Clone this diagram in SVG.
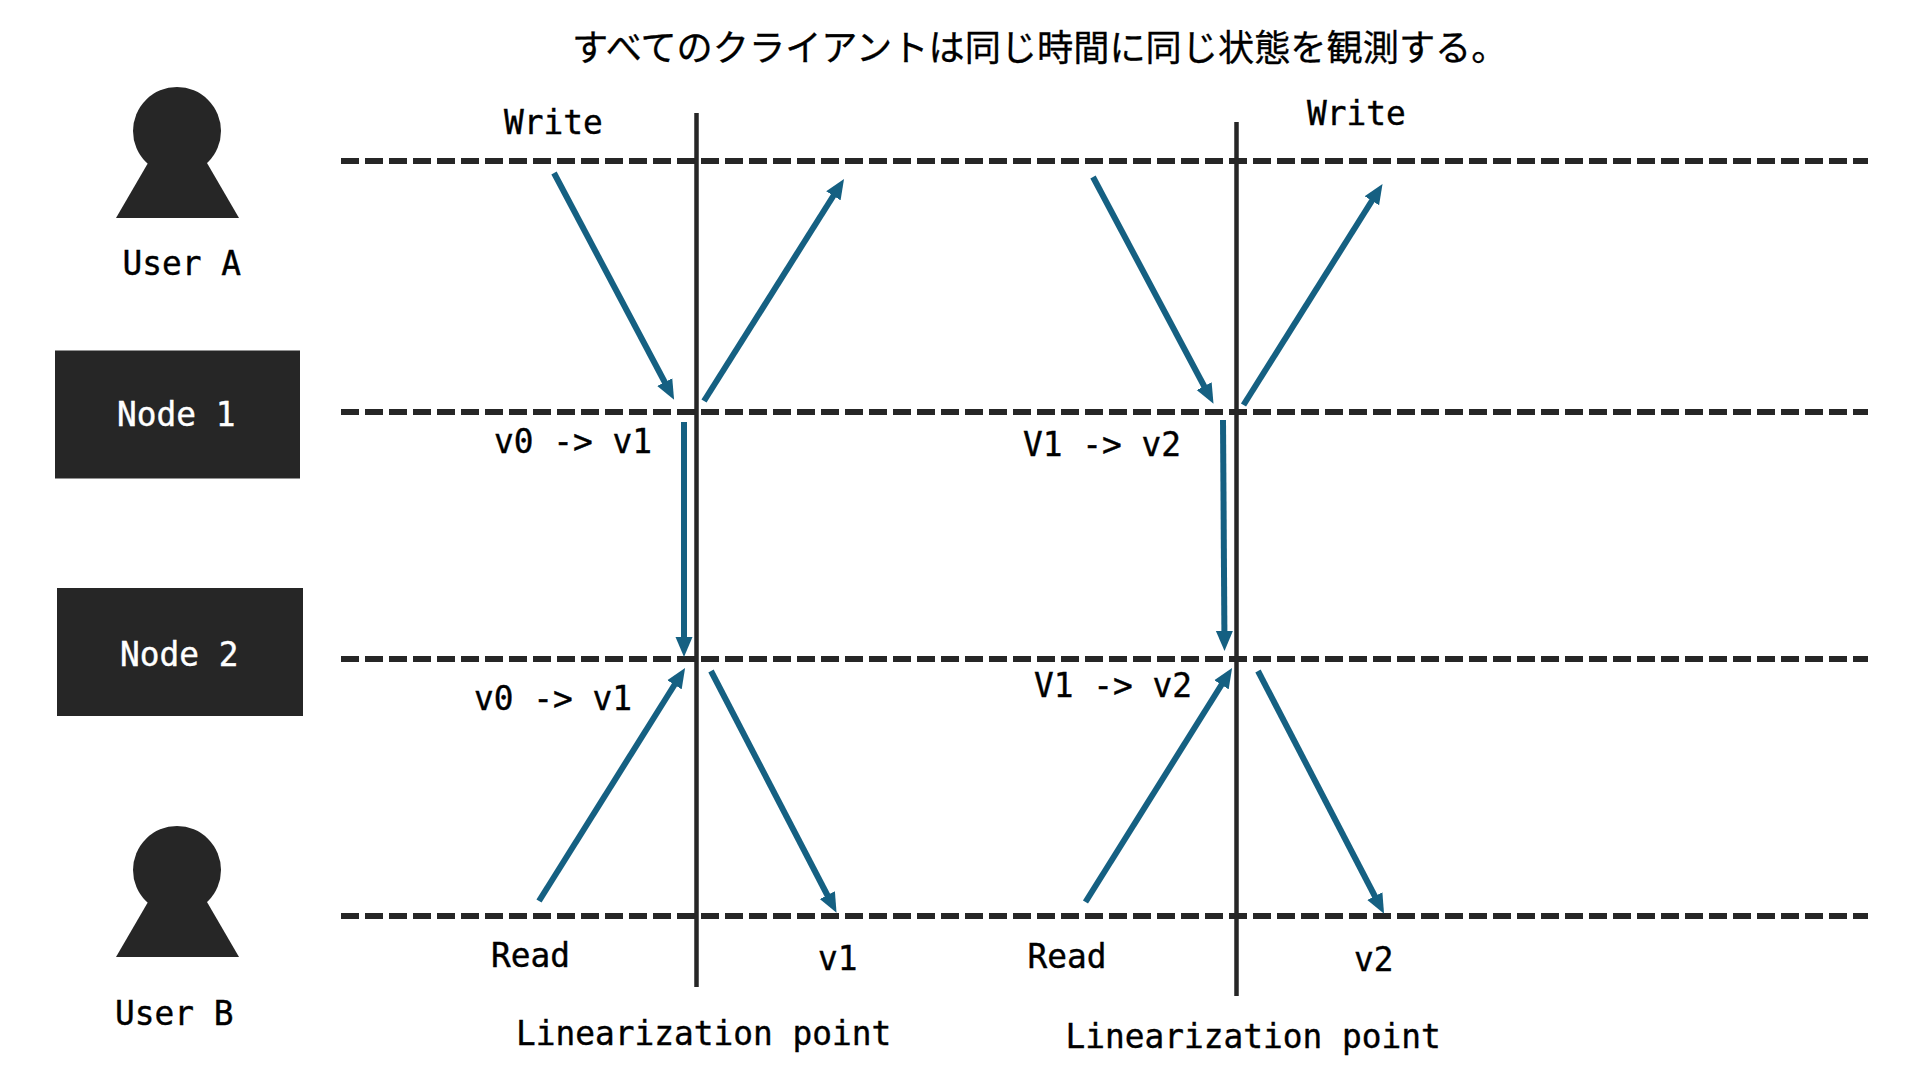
<svg xmlns="http://www.w3.org/2000/svg" width="1920" height="1080" viewBox="0 0 1920 1080">
<style>
.t{font-family:"DejaVu Sans Mono","Liberation Mono",monospace;font-size:32.8px;fill:#000;stroke:#000;stroke-width:.4}
.w{fill:#fff;stroke:#fff}
.title{font-family:"Noto Sans CJK JP","Noto Sans",sans-serif;font-size:36.2px;fill:#000;stroke:#000;stroke-width:.3}
.fill{fill:#262626}
.d{stroke:#262626;stroke-width:6;stroke-dasharray:18 6;fill:none}
.v{stroke:#262626;stroke-width:4.5;fill:none}
.a{stroke:#156082;stroke-width:6;fill:none;marker-end:url(#h)}
</style>
<defs>
<marker id="h" markerUnits="userSpaceOnUse" markerWidth="20" markerHeight="18" refX="1" refY="9" orient="auto"><polygon points="0,0.5 20,9 0,17.5" fill="#156082"/></marker>
<g id="person"><ellipse cx="177" cy="131" rx="44" ry="44" class="fill"/><polygon points="148,163 207,163 239,218 116,218" class="fill"/></g>
</defs>
<rect width="1920" height="1080" fill="#fff"/>
<text class="title" x="572" y="60.5">すべてのクライアントは同じ時間に同じ状態を観測する。</text>
<g id="connectors">
<line class="d" x1="341" y1="161" x2="1868" y2="161"/>
<line class="d" x1="341" y1="412" x2="1868" y2="412"/>
<line class="d" x1="341" y1="659" x2="1868" y2="659"/>
<line class="d" x1="341" y1="916" x2="1868" y2="916"/>
<line class="v" x1="696.5" y1="113" x2="696.5" y2="987"/>
<line class="v" x1="1236.5" y1="122" x2="1236.5" y2="996"/>
<line class="a" x1="554" y1="173" x2="665.2" y2="383"/>
<line class="a" x1="704" y1="401" x2="833.9" y2="195"/>
<line class="a" x1="684" y1="422" x2="684" y2="638"/>
<line class="a" x1="539" y1="901" x2="675" y2="684"/>
<line class="a" x1="711" y1="671" x2="827.8" y2="896"/>
<line class="a" x1="1093" y1="177" x2="1204.6" y2="387"/>
<line class="a" x1="1243.5" y1="405" x2="1372.4" y2="200"/>
<line class="a" x1="1223" y1="420" x2="1224.4" y2="632"/>
<line class="a" x1="1085.5" y1="902" x2="1222" y2="684"/>
<line class="a" x1="1258" y1="671" x2="1375.3" y2="897"/>
</g>
<g id="user-a"><use href="#person"/><text class="t" x="122.5" y="275">User A</text></g>
<g id="user-b"><use href="#person" y="739"/><text class="t" x="115" y="1025">User B</text></g>
<g id="node-1"><rect class="fill" x="55" y="350.5" width="245" height="128"/><text class="t w" x="117" y="425.5">Node 1</text></g>
<g id="node-2"><rect class="fill" x="57" y="588" width="246" height="128"/><text class="t w" x="120" y="666">Node 2</text></g>
<g id="labels">
<text class="t" x="504" y="134">Write</text>
<text class="t" x="1307" y="125">Write</text>
<text class="t" x="494" y="453">v0 -&gt; v1</text>
<text class="t" x="1023" y="456">V1 -&gt; v2</text>
<text class="t" x="474" y="710">v0 -&gt; v1</text>
<text class="t" x="1034" y="697">V1 -&gt; v2</text>
<text class="t" x="491" y="967">Read</text>
<text class="t" x="818" y="970">v1</text>
<text class="t" x="1027.5" y="968">Read</text>
<text class="t" x="1354" y="971">v2</text>
<text class="t" x="516" y="1044.5">Linearization point</text>
<text class="t" x="1065.5" y="1047.5">Linearization point</text>
</g>
</svg>
